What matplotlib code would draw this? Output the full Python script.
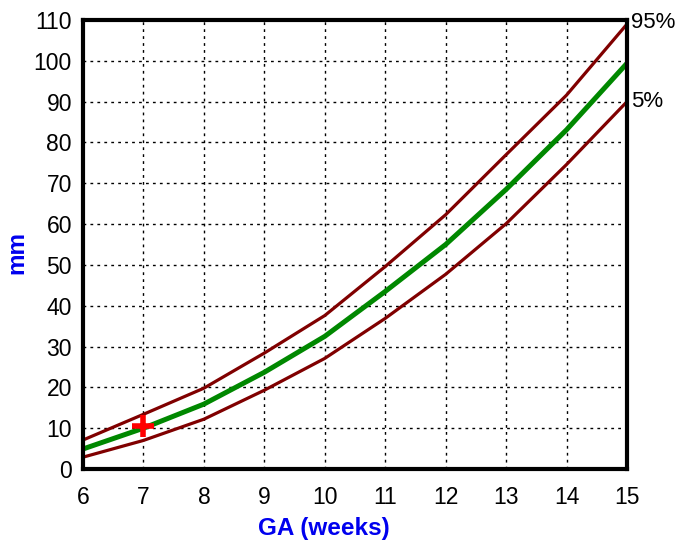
import matplotlib
matplotlib.use("Agg")
import matplotlib.pyplot as plt

plt.rcParams['font.family'] = ['Liberation Sans', 'DejaVu Sans']

ga_weeks = [6, 7, 8, 9, 10, 11, 12, 13, 14, 15]
p95 = [7.1, 13.4, 19.8, 28.4, 37.6, 49.6, 62.3, 77.0, 91.6, 109.0]
p50 = [4.9, 10.0, 15.9, 23.7, 32.5, 43.5, 55.0, 68.5, 83.1, 99.4]
p5 = [2.9, 7.0, 12.2, 19.3, 27.1, 36.9, 47.7, 60.1, 74.6, 90.0]
patient_ga = [7.0]
patient_mm = [10.5]

fig = plt.figure(figsize=(6.77, 5.48), dpi=100)
ax = fig.add_axes([83 / 677, 1 - 469 / 548, (627 - 83) / 677, (469 - 20) / 548])

ax.plot(ga_weeks, p95, color='#800000', lw=2.3)
ax.plot(ga_weeks, p5, color='#800000', lw=2.3)
ax.plot(ga_weeks, p50, color='#008800', lw=3.6)
ax.plot(patient_ga, patient_mm, marker='+', color='red', ms=16, mew=4, ls='none')

ax.text(15.07, p95[-1] + 0.5, '95%', fontsize=16, va='center', ha='left')
ax.text(15.07, p5[-1], '5%', fontsize=16, va='center', ha='left')

ax.set_xlim(6, 15)
ax.set_ylim(0, 110)
ax.set_xticks(range(6, 16))
ax.set_yticks(range(0, 111, 10))
ax.tick_params(length=0, labelsize=16.5)
ax.tick_params(axis='y', pad=8)
ax.tick_params(axis='x', pad=12)
ax.grid(True, color='black', ls=(0, (2, 3)), lw=1)
for s in ax.spines.values():
    s.set_linewidth(3)

fig.text(324 / 677, 1 - 529 / 548, 'GA (weeks)', color='#0000ee', fontsize=17.5,
         fontweight='bold', ha='center', va='center')
fig.text(17 / 677, 1 - 252 / 548, 'mm', color='#0000ee', fontsize=17.5,
         fontweight='bold', ha='center', va='center', rotation=90)

fig.savefig('out.png', dpi=100)
